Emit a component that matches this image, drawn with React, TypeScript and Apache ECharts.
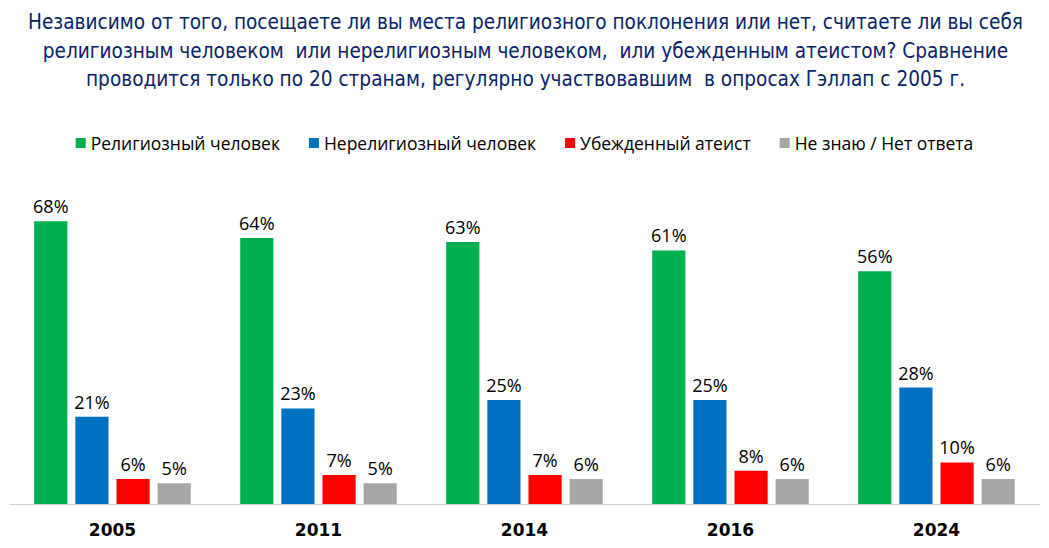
import React, { useEffect, useRef } from "react";
import * as echarts from "echarts";

const years = ["2005", "2011", "2014", "2016", "2024"];
const religious = [68, 64, 63, 61, 56];
const nonReligious = [21, 23, 25, 25, 28];
const atheist = [6, 7, 7, 8, 10];
const dontKnow = [5, 5, 6, 6, 6];

const seriesNames = [
  "Религиозный человек",
  "Нерелигиозный человек",
  "Убежденный атеист",
  "Не знаю / Нет ответа",
];
const seriesColors = ["#00B050", "#0070C0", "#FF0000", "#A6A6A6"];
const seriesData = [religious, nonReligious, atheist, dontKnow];

const titleLines = [
  "Независимо от того, посещаете ли вы места религиозного поклонения или нет, считаете ли вы себя",
  "религиозным человеком  или нерелигиозным человеком,  или убежденным атеистом? Сравнение",
  "проводится только по 20 странам, регулярно участвовавшим  в опросах Гэллап с 2005 г.",
];

export default function App() {
  const ref = useRef<HTMLDivElement>(null);
  useEffect(() => {
    if (!ref.current) return;
    const chart = echarts.init(ref.current, null, { renderer: "svg" });
    chart.setOption({
      animation: false,
      backgroundColor: "#ffffff",
      graphic: titleLines.map((line, i) => ({
        type: "text",
        x: 525.5,
        y: 22 + i * 28.7,
        style: {
          text: line,
          textAlign: "center",
          textVerticalAlign: "middle",
          fontFamily: "DejaVu Sans Condensed",
          fontSize: 20.6,
          fill: "#0B2466",
        },
      })),
      legend: {
        top: 129,
        left: "center",
        icon: "rect",
        itemWidth: 10,
        itemHeight: 10,
        itemGap: 29,
        textStyle: {
          fontFamily: "Open Sans",
          fontSize: 17.5,
          color: "#000000",
        },
        data: seriesNames,
      },
      grid: { left: 9.5, right: 9.5, top: 213, bottom: 44, containLabel: false },
      xAxis: {
        type: "category",
        data: years,
        axisLine: { lineStyle: { color: "#D0D0D0", width: 1 } },
        axisTick: { show: false },
        axisLabel: {
          margin: 17,
          fontFamily: "DejaVu Sans",
          fontWeight: "bold",
          fontSize: 17,
          color: "#000000",
        },
      },
      yAxis: {
        type: "value",
        min: 0,
        max: 70,
        show: false,
        splitLine: { show: false },
      },
      series: seriesNames.map((name, i) => ({
        name,
        type: "bar",
        data: seriesData[i],
        barGap: "24%",
        barCategoryGap: "24%",
        itemStyle: { color: seriesColors[i] },
        label: {
          show: true,
          position: "top",
          distance: 6,
          formatter: "{c}%",
          fontFamily: "Open Sans",
          fontSize: 18,
          color: "#000000",
        },
      })),
    });
    return () => chart.dispose();
  }, []);
  return (
    <div
      ref={ref}
      style={{ position: "absolute", left: 0, top: 0, width: 1049, height: 548 }}
    />
  );
}
